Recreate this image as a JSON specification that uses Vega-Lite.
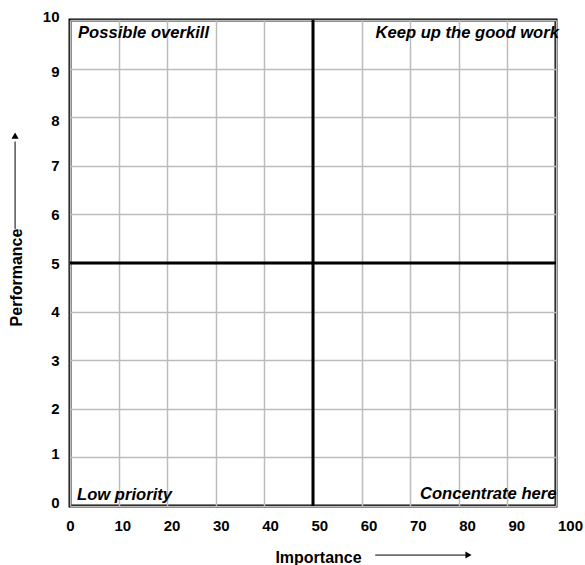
{
  "$schema": "https://vega.github.io/schema/vega-lite/v6.json",
  "width": 486,
  "height": 486,
  "autosize": {"type": "none"},
  "padding": {"left": 70, "top": 20, "right": 29, "bottom": 59},
  "background": "white",
  "config": {
    "font": "Liberation Sans",
    "view": {"stroke": "black", "strokeWidth": 3},
    "axis": {
      "labelFont": "Liberation Sans",
      "labelFontWeight": "bold",
      "labelFontSize": 15,
      "labelColor": "black",
      "titleFont": "Liberation Sans",
      "titleFontWeight": "bold",
      "titleFontSize": 16,
      "titleColor": "black",
      "gridColor": "#bcbcbc",
      "gridWidth": 1.5,
      "gridOpacity": 1,
      "ticks": false,
      "domain": false,
      "labelFlush": false,
      "labelOverlap": false
    }
  },
  "datasets": {
    "vlines": [{"importance": 50}],
    "hlines": [{"performance": 5}],
    "leftLabels": [
      {"label": "Possible overkill", "importance": 1.65, "performance": 9.63},
      {"label": "Low priority", "importance": 1.45, "performance": 0.12}
    ],
    "rightLabels": [
      {"label": "Keep up the good work", "importance": 100.6, "performance": 9.63},
      {"label": "Concentrate here", "importance": 100.1, "performance": 0.15}
    ],
    "xArrow": [{"x1": 62.8, "x2": 81.5, "y": -1.01, "tip": 82}],
    "yArrow": [{"x": -11.3, "y1": 5.7, "y2": 7.5, "tip": 7.62}]
  },
  "layer": [
    {
      "data": {"name": "vlines"},
      "mark": {"type": "rule", "color": "black", "strokeWidth": 3},
      "encoding": {
        "x": {
          "field": "importance",
          "type": "quantitative",
          "scale": {"domain": [0, 100], "nice": false, "zero": false},
          "axis": {
            "values": [0, 10, 20, 30, 40, 50, 60, 70, 80, 90, 100],
            "title": "Importance",
            "labelPadding": 12,
            "labelOffset": {"expr": "datum.value == 0 ? 0 : datum.value == 100 ? 14 : 3 + datum.value * 0.065"},
            "titleX": 248,
            "titleY": 56,
            "titleBaseline": "alphabetic",
            "titleAlign": "center"
          }
        }
      }
    },
    {
      "data": {"name": "hlines"},
      "mark": {"type": "rule", "color": "black", "strokeWidth": 3},
      "encoding": {
        "y": {
          "field": "performance",
          "type": "quantitative",
          "scale": {"domain": [0, 10], "nice": false, "zero": false},
          "axis": {
            "values": [0, 1, 2, 3, 4, 5, 6, 7, 8, 9, 10],
            "title": "Performance",
            "labelPadding": 11,
            "labelOffset": {"expr": "datum.value == 10 ? -4 : datum.value <= 1 ? -4 : datum.value >= 8 ? 3 : 0"},
            "titleX": -54,
            "titleY": 257,
            "titleAngle": -90,
            "titleAlign": "center",
            "titleBaseline": "middle"
          }
        }
      }
    },
    {
      "data": {"name": "leftLabels"},
      "mark": {"type": "text", "align": "left", "baseline": "alphabetic", "fontSize": 16.6, "fontWeight": "bold", "fontStyle": "italic", "color": "black"},
      "encoding": {
        "x": {"field": "importance", "type": "quantitative"},
        "y": {"field": "performance", "type": "quantitative"},
        "text": {"field": "label"}
      }
    },
    {
      "data": {"name": "rightLabels"},
      "mark": {"type": "text", "align": "right", "baseline": "alphabetic", "fontSize": 16.6, "fontWeight": "bold", "fontStyle": "italic", "color": "black"},
      "encoding": {
        "x": {"field": "importance", "type": "quantitative"},
        "y": {"field": "performance", "type": "quantitative"},
        "text": {"field": "label"}
      }
    },
    {
      "data": {"name": "xArrow"},
      "mark": {"type": "rule", "color": "black", "strokeWidth": 1},
      "encoding": {
        "x": {"field": "x1", "type": "quantitative"},
        "x2": {"field": "x2"},
        "y": {"field": "y", "type": "quantitative"}
      }
    },
    {
      "data": {"name": "xArrow"},
      "mark": {"type": "point", "shape": "triangle-right", "filled": true, "color": "black", "size": 50, "opacity": 1},
      "encoding": {
        "x": {"field": "tip", "type": "quantitative"},
        "y": {"field": "y", "type": "quantitative"}
      }
    },
    {
      "data": {"name": "yArrow"},
      "mark": {"type": "rule", "color": "black", "strokeWidth": 1},
      "encoding": {
        "x": {"field": "x", "type": "quantitative"},
        "y": {"field": "y1", "type": "quantitative"},
        "y2": {"field": "y2"}
      }
    },
    {
      "data": {"name": "yArrow"},
      "mark": {"type": "point", "shape": "triangle-up", "filled": true, "color": "black", "size": 50, "opacity": 1},
      "encoding": {
        "x": {"field": "x", "type": "quantitative"},
        "y": {"field": "tip", "type": "quantitative"}
      }
    }
  ]
}
